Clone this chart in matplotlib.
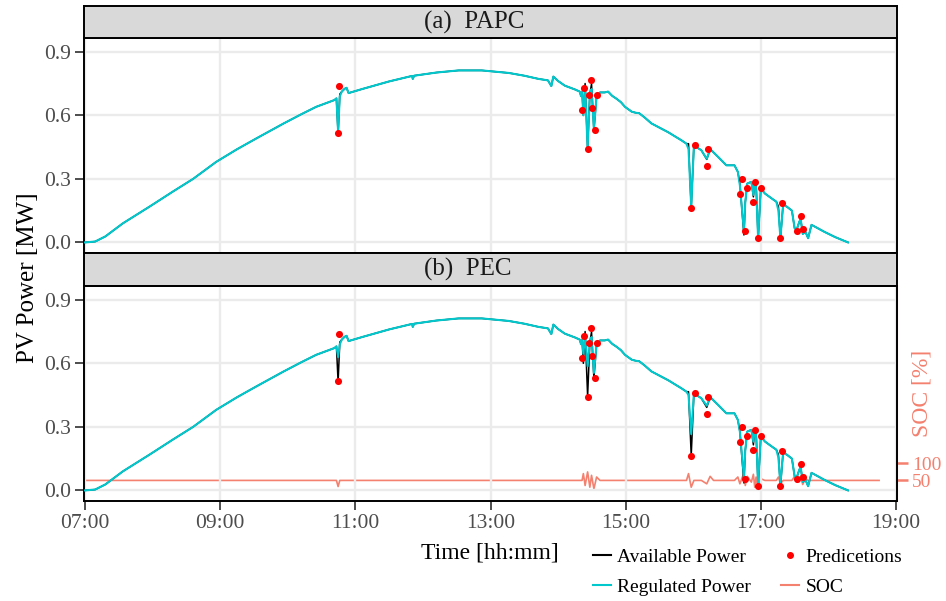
import matplotlib
matplotlib.use("Agg")
import matplotlib.pyplot as plt
from matplotlib.lines import Line2D

plt.rcParams['font.family'] = ['Liberation Serif', 'DejaVu Serif']

# ---------------- data ----------------
time_h = [
    7.00, 7.15, 7.30, 7.56, 7.96, 8.30, 8.60, 8.94, 9.25, 9.53,
    9.93, 10.20, 10.42, 10.69, 10.72, 10.745, 10.77, 10.80, 10.84, 10.87,
    10.90, 11.10, 11.50, 11.84, 11.85, 11.87, 12.20, 12.53, 12.87, 13.27,
    13.50, 13.71, 13.85, 13.90, 13.93, 14.00, 14.10, 14.25, 14.32, 14.34,
    14.355, 14.374, 14.40, 14.437, 14.47, 14.495, 14.53, 14.57, 14.62, 14.69,
    14.74, 14.80, 14.87, 14.93, 14.99, 15.09, 15.15, 15.20, 15.28, 15.38,
    15.63, 15.83, 15.90, 15.93, 15.97, 16.01, 16.12, 16.20, 16.25, 16.30,
    16.37, 16.49, 16.61, 16.66, 16.69, 16.75, 16.77, 16.80, 16.86, 16.89,
    16.91, 16.93, 16.96, 17.00, 17.06, 17.15, 17.23, 17.26, 17.29, 17.33,
    17.40, 17.46, 17.50, 17.53, 17.57, 17.59, 17.62, 17.66, 17.70, 17.75,
    17.94, 18.10, 18.29]

available = [
    0.000, 0.004, 0.028, 0.090, 0.170, 0.240, 0.300, 0.380, 0.440, 0.490,
    0.560, 0.605, 0.640, 0.672, 0.680, 0.512, 0.700, 0.712, 0.725, 0.730,
    0.705, 0.724, 0.760, 0.786, 0.772, 0.787, 0.802, 0.812, 0.812, 0.800,
    0.787, 0.772, 0.765, 0.738, 0.783, 0.762, 0.740, 0.722, 0.712, 0.690,
    0.712, 0.600, 0.750, 0.445, 0.700, 0.748, 0.530, 0.690, 0.708, 0.708,
    0.712, 0.692, 0.677, 0.662, 0.640, 0.617, 0.612, 0.610, 0.590, 0.562,
    0.520, 0.481, 0.466, 0.466, 0.165, 0.458, 0.435, 0.392, 0.440, 0.425,
    0.403, 0.364, 0.364, 0.333, 0.278, 0.035, 0.190, 0.278, 0.286, 0.215,
    0.286, 0.280, 0.015, 0.255, 0.231, 0.210, 0.192, 0.170, 0.018, 0.180,
    0.165, 0.150, 0.067, 0.060, 0.098, 0.110, 0.040, 0.050, 0.020, 0.083,
    0.050, 0.025, 0.000]

regulated_papc = [
    0.000, 0.004, 0.028, 0.090, 0.170, 0.240, 0.300, 0.380, 0.440, 0.490,
    0.560, 0.605, 0.640, 0.672, 0.680, 0.525, 0.690, 0.712, 0.725, 0.730,
    0.705, 0.724, 0.760, 0.786, 0.772, 0.787, 0.802, 0.812, 0.812, 0.800,
    0.787, 0.772, 0.765, 0.738, 0.783, 0.762, 0.740, 0.722, 0.712, 0.690,
    0.712, 0.600, 0.730, 0.445, 0.700, 0.724, 0.536, 0.690, 0.708, 0.708,
    0.712, 0.692, 0.677, 0.662, 0.640, 0.617, 0.612, 0.610, 0.590, 0.562,
    0.520, 0.481, 0.466, 0.440, 0.169, 0.458, 0.435, 0.395, 0.440, 0.425,
    0.403, 0.364, 0.364, 0.333, 0.270, 0.052, 0.190, 0.278, 0.286, 0.224,
    0.286, 0.260, 0.020, 0.255, 0.231, 0.210, 0.192, 0.150, 0.020, 0.180,
    0.165, 0.150, 0.067, 0.060, 0.098, 0.110, 0.040, 0.050, 0.020, 0.083,
    0.050, 0.025, 0.000]

regulated_pec = [
    0.000, 0.004, 0.028, 0.090, 0.170, 0.240, 0.300, 0.380, 0.440, 0.490,
    0.560, 0.605, 0.640, 0.672, 0.680, 0.630, 0.690, 0.712, 0.725, 0.730,
    0.705, 0.724, 0.760, 0.786, 0.772, 0.787, 0.802, 0.812, 0.812, 0.800,
    0.787, 0.772, 0.765, 0.738, 0.783, 0.762, 0.740, 0.722, 0.712, 0.690,
    0.712, 0.645, 0.730, 0.586, 0.700, 0.724, 0.555, 0.690, 0.708, 0.708,
    0.712, 0.692, 0.677, 0.662, 0.640, 0.617, 0.612, 0.610, 0.590, 0.562,
    0.520, 0.481, 0.466, 0.450, 0.266, 0.458, 0.435, 0.400, 0.440, 0.425,
    0.403, 0.364, 0.364, 0.333, 0.278, 0.062, 0.190, 0.278, 0.286, 0.230,
    0.286, 0.265, 0.030, 0.255, 0.231, 0.210, 0.192, 0.155, 0.030, 0.180,
    0.165, 0.150, 0.067, 0.060, 0.098, 0.110, 0.040, 0.050, 0.020, 0.083,
    0.050, 0.025, 0.000]

soc_time = [
    7.00, 10.72, 10.745, 10.77,
    14.355, 14.374, 14.40, 14.437, 14.47, 14.495, 14.53, 14.57, 14.62,
    15.90, 15.93, 15.97, 16.01,
    16.12, 16.20, 16.25, 16.30,
    16.61, 16.66, 16.69, 16.75, 16.77, 16.80, 16.86, 16.89, 16.91, 16.93, 16.96, 17.00, 17.06,
    17.23, 17.26, 17.29, 17.33,
    17.46, 17.50, 17.53, 17.57, 17.59, 17.62, 17.66, 17.70,
    18.75]
soc_value = [
    50, 50, 32, 50,
    50, 70, 35, 75, 30, 65, 25, 60, 50,
    50, 70, 30, 50,
    50, 40, 62, 50,
    50, 60, 40, 72, 35, 62, 45, 68, 30, 60, 25, 55, 50,
    50, 60, 40, 50,
    50, 62, 45, 50, 63, 38, 55, 50,
    50]

pred_time = [10.745, 10.76, 14.35, 14.39, 14.44, 14.46, 14.49, 14.50, 14.54, 14.58,
             15.97, 16.02, 16.20, 16.22, 16.69, 16.72, 16.76, 16.79, 16.88, 16.92,
             16.96, 17.00, 17.29, 17.32, 17.53, 17.59, 17.62]
pred_power = [0.515, 0.740, 0.625, 0.727, 0.442, 0.697, 0.767, 0.634, 0.533, 0.694,
              0.164, 0.461, 0.360, 0.442, 0.227, 0.300, 0.056, 0.258, 0.190, 0.286,
              0.020, 0.255, 0.020, 0.184, 0.056, 0.127, 0.062]

panel_titles = ["(a)  PAPC", "(b)  PEC"]
x_ticks = [7, 9, 11, 13, 15, 17, 19]
x_tick_labels = ["07:00", "09:00", "11:00", "13:00", "15:00", "17:00", "19:00"]
y_ticks = [0.0, 0.3, 0.6, 0.9]
y_tick_labels = ["0.0", "0.3", "0.6", "0.9"]
soc_ticks = [50, 100]

# ---------------- style ----------------
C_AVAIL = "black"
C_REG = "#00C8CD"
C_SOC = "#F4806F"
C_PRED = "#FF0000"
C_GRID = "#EBEBEB"
C_TICK = "#4D4D4D"
C_STRIP = "#D9D9D9"

W, H = 946, 601
fig = plt.figure(figsize=(W / 100, H / 100), dpi=100)

left = 84 / W
width = (897 - 84) / W
ph = 215 / H
panels = [
    dict(plot_bottom=1 - 253 / H, strip_bottom=1 - 38 / H, strip_h=32 / H),
    dict(plot_bottom=1 - 501 / H, strip_bottom=1 - 286 / H, strip_h=33 / H),
]
regs = [regulated_papc, regulated_pec]
ylim = (-0.05, 0.965)
xlim = (6.985, 19.015)

axes = []
for i, p in enumerate(panels):
    ax = fig.add_axes([left, p["plot_bottom"], width, ph])
    ax.set_xlim(*xlim)
    ax.set_ylim(*ylim)
    for xt in x_ticks:
        ax.axvline(xt, color=C_GRID, lw=1.7, zorder=0)
    for yt in y_ticks:
        ax.axhline(yt, color=C_GRID, lw=1.7, zorder=0)
    ax.plot(time_h, available, color=C_AVAIL, lw=1.1, zorder=2)
    ax.plot(time_h, regs[i], color=C_REG, lw=1.5, zorder=3)
    ax.scatter(pred_time, pred_power, s=26, color=C_PRED, zorder=5, linewidths=0)
    ax.set_yticks(y_ticks)
    ax.set_yticklabels(y_tick_labels)
    ax.set_xticks(x_ticks)
    if i == 0:
        ax.set_xticklabels([])
        ax.tick_params(axis='x', length=0)
    else:
        ax.set_xticklabels(x_tick_labels)
    ax.tick_params(axis='both', labelsize=15.5, colors=C_TICK, length=6.5, width=1.4,
                   pad=3)
    for s in ax.spines.values():
        s.set_color("black")
        s.set_linewidth(1.4)
    axes.append(ax)

    sax = fig.add_axes([left, p["strip_bottom"], width, p["strip_h"]])
    sax.set_facecolor(C_STRIP)
    sax.set_xticks([])
    sax.set_yticks([])
    for s in sax.spines.values():
        s.set_color("black")
        s.set_linewidth(1.4)
    sax.text((424 - 84) / (897 - 84), 0.5, panel_titles[i], ha='left', va='center',
             fontsize=18, color="#1A1A1A", transform=sax.transAxes)

# SOC secondary axis on panel b
axb = axes[1]
axs = axb.twinx()
slope = 0.001604
icpt = -0.033
axs.set_ylim((ylim[0] - icpt) / slope, (ylim[1] - icpt) / slope)
axs.plot(soc_time, soc_value, color=C_SOC, lw=1.2, zorder=1)
axs.set_yticks(soc_ticks)
axs.tick_params(axis='y', labelsize=14, colors=C_SOC, length=8, width=1.8, pad=3)
axs.spines['right'].set_color(C_SOC)
axs.spines['right'].set_linewidth(1.5)
for k in ['left', 'top', 'bottom']:
    axs.spines[k].set_visible(False)
axb.set_zorder(axs.get_zorder() + 1)
axb.patch.set_visible(False)

fig.text(922 / W, 1 - 393 / H, "SOC [%]", rotation=90, ha='center', va='center',
         fontsize=17, color=C_SOC)
fig.text(28 / W, 1 - 278 / H, "PV Power [MW]", rotation=90, ha='center', va='center',
         fontsize=18)
fig.text(490 / W, 1 - 553 / H, "Time [hh:mm]", ha='center', va='center', fontsize=17)

handles = [
    Line2D([], [], color=C_AVAIL, lw=1.5),
    Line2D([], [], color=C_REG, lw=1.5),
    Line2D([], [], color=C_PRED, lw=0, marker='o', markersize=4),
    Line2D([], [], color=C_SOC, lw=1.5),
]
labels = ["Available Power", "Regulated Power", "Predicetions", "SOC"]
fig.legend(handles, labels, ncol=2, loc='upper left', bbox_to_anchor=(593 / W, 1 - 548 / H),
           frameon=False, fontsize=14, handlelength=0.9, handletextpad=0.35,
           columnspacing=1.55, labelspacing=0.65, borderpad=0, borderaxespad=0)

fig.savefig("out.png", dpi=100)
